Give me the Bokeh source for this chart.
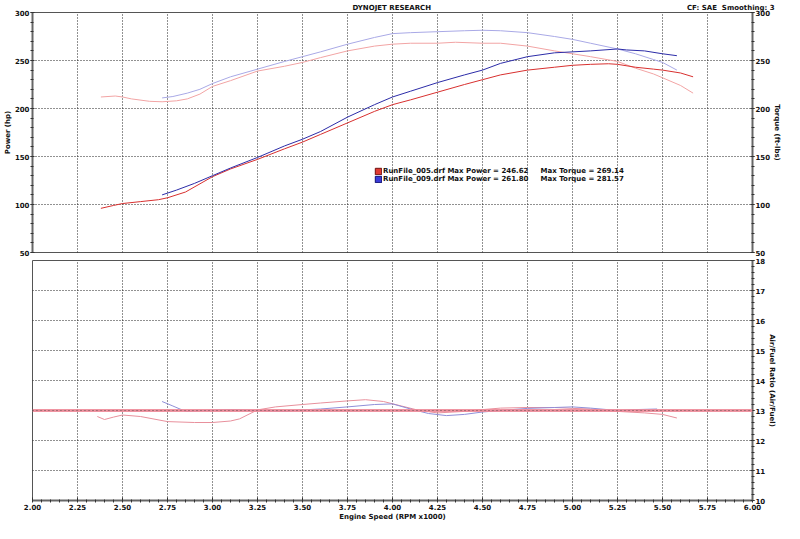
from bokeh.plotting import figure
from bokeh.layouts import column
from bokeh.models import (Range1d, LinearAxis, SingleIntervalTicker, NumeralTickFormatter,
                          Legend, LegendItem, Span)
from bokeh.embed import file_html
from bokeh.resources import INLINE

# ---------------- data ----------------
rpm_pwr_005 = [2.38, 2.45, 2.50, 2.60, 2.70, 2.75, 2.85, 3.00, 3.10, 3.25, 3.40, 3.50, 3.60, 3.75,
               3.90, 4.00, 4.10, 4.25, 4.40, 4.50, 4.60, 4.75, 4.90, 5.00, 5.10, 5.20, 5.25, 5.35,
               5.45, 5.50, 5.60, 5.67]
hp_005 = [96, 99, 101, 103, 105, 107, 113, 129, 137, 147, 158, 165, 173, 185,
          197, 204, 209, 217, 225, 230, 235, 240, 243, 245, 246, 246.6, 246, 243,
          241, 240, 237, 233]

rpm_pwr_009 = [2.72, 2.80, 2.90, 3.00, 3.10, 3.25, 3.40, 3.50, 3.60, 3.75, 3.90, 4.00, 4.10, 4.25,
               4.40, 4.50, 4.60, 4.75, 4.90, 5.00, 5.10, 5.25, 5.30, 5.40, 5.50, 5.58]
hp_009 = [110, 115, 122, 130, 138, 149, 161, 168, 176, 191, 204, 212, 218, 227,
          235, 240, 247, 254, 258, 259, 260, 262, 261, 260, 257, 255]

rpm_tq_005 = [2.38, 2.46, 2.50, 2.55, 2.65, 2.72, 2.80, 2.86, 2.93, 3.00, 3.10, 3.25, 3.40, 3.50,
              3.60, 3.75, 3.90, 4.00, 4.10, 4.25, 4.35, 4.50, 4.60, 4.75, 4.90, 5.00, 5.10, 5.25,
              5.35, 5.45, 5.50, 5.60, 5.67]
tq_005 = [212, 213, 212, 210, 207.5, 207, 208, 210, 215, 223, 229, 239, 244, 248,
          253, 260, 265, 267, 268, 268, 269, 268, 268, 265, 260, 257, 254, 249,
          242, 236, 232, 224, 216]

rpm_tq_009 = [2.72, 2.78, 2.86, 2.93, 3.00, 3.10, 3.25, 3.40, 3.50, 3.60, 3.75, 3.90, 4.00, 4.10,
              4.25, 4.40, 4.50, 4.60, 4.75, 4.90, 5.00, 5.10, 5.25, 5.35, 5.45, 5.50, 5.58]
tq_009 = [211, 212.5, 216, 220, 226, 233, 241, 249, 254, 259, 267, 274, 278, 279,
          280, 281, 281.5, 281, 279, 275, 272, 268, 262, 257, 251, 248, 240]

rpm_afr_005 = [2.36, 2.40, 2.45, 2.50, 2.60, 2.75, 2.90, 3.00, 3.10, 3.15, 3.25, 3.35, 3.50, 3.60,
               3.75, 3.85, 3.95, 4.05, 4.15, 4.25, 4.40, 4.50, 4.60, 4.75, 4.90, 5.00, 5.10, 5.25,
               5.40, 5.50, 5.58]
afr_005 = [12.80, 12.70, 12.78, 12.85, 12.80, 12.63, 12.60, 12.60, 12.65, 12.72, 13.02, 13.12, 13.20, 13.25,
           13.32, 13.36, 13.30, 13.15, 13.00, 12.92, 12.97, 13.03, 13.08, 13.10, 13.10, 13.07, 13.05, 12.97,
           12.92, 12.87, 12.75]

rpm_afr_009 = [2.72, 2.78, 2.85, 2.95, 3.10, 3.25, 3.40, 3.50, 3.60, 3.75, 3.90, 4.00, 4.10, 4.20,
               4.30, 4.40, 4.50, 4.60, 4.75, 4.90, 5.00, 5.10, 5.25, 5.35, 5.47]
afr_009 = [13.30, 13.15, 12.97, 13.00, 13.03, 13.00, 12.97, 13.02, 13.05, 13.12, 13.20, 13.22, 13.05, 12.90,
           12.83, 12.87, 12.95, 13.00, 13.07, 13.10, 13.12, 13.08, 13.00, 13.03, 13.05]

afr_target = [13.0]

run_names = ["RunFile_005.drf", "RunFile_009.drf"]
max_power = [246.62, 261.80]
max_torque = [269.14, 281.57]

title_text = "DYNOJET RESEARCH"
info_text = "CF: SAE\u00a0\u00a0Smoothing: 3"

# ---------------- style ----------------
FONT = "DejaVu Sans"
FS = "7px"
C_HP_005 = "#d8302f"
C_HP_009 = "#2c2ca8"
C_TQ_005 = "#f2a4a4"
C_TQ_009 = "#a9a9e6"
C_AFR_005 = "#e8909c"
C_AFR_009 = "#8f8fd8"
C_TARGET = "#ee8a98"
W = 784
NAN = float("nan")


def style_axis(ax):
    ax.major_label_text_font = FONT
    ax.major_label_text_font_size = FS
    ax.major_label_text_font_style = "bold"
    ax.major_label_text_color = "#111111"
    ax.axis_label_text_font = FONT
    ax.axis_label_text_font_size = FS
    ax.axis_label_text_font_style = "bold"
    ax.axis_label_text_color = "#111111"
    ax.axis_label_standoff = 0
    ax.major_label_standoff = 1
    ax.major_tick_in = 2
    ax.major_tick_out = 2
    ax.minor_tick_in = 1
    ax.minor_tick_out = 2
    ax.axis_line_color = "#666666"
    ax.axis_line_width = 2
    ax.major_tick_line_color = "#333333"
    ax.minor_tick_line_color = "#333333"


def style_grid(g):
    g.grid_line_color = "#222222"
    g.grid_line_dash = "1 2"
    g.grid_line_width = 1


xr = Range1d(2.0, 6.0)

# ---------------- top panel ----------------
top = figure(width=W, height=256, x_range=xr, y_range=Range1d(50, 300),
             output_backend="svg", toolbar_location=None,
             x_axis_location=None, y_axis_location="left",
             min_border_left=26, min_border_right=26, min_border_top=0, min_border_bottom=4)
top.extra_y_ranges = {"tq": Range1d(50, 300)}
top.title.text = title_text + "\u00a0" * 105 + info_text
top.title.align = "left"
top.title.offset = 320
top.title.text_font = FONT
top.title.text_font_size = FS
top.title.text_font_style = "bold"
top.title.text_color = "#111111"
top.title.standoff = 2
top.outline_line_color = "#555555"
top.background_fill_color = "white"
top.border_fill_color = "white"

ly = top.yaxis[0]
ly.ticker = SingleIntervalTicker(interval=50, num_minor_ticks=5)
ly.axis_label = "Power (hp)"
style_axis(ly)
ry = LinearAxis(y_range_name="tq", axis_label="Torque (ft-lbs)",
                ticker=SingleIntervalTicker(interval=50, num_minor_ticks=5))
style_axis(ry)
top.add_layout(ry, "right")

top.xgrid.ticker = SingleIntervalTicker(interval=0.25)
top.ygrid.ticker = SingleIntervalTicker(interval=50)
style_grid(top.xgrid[0])
style_grid(top.ygrid[0])

top.line(rpm_tq_005, tq_005, line_color=C_TQ_005, line_width=1, y_range_name="tq")
top.line(rpm_tq_009, tq_009, line_color=C_TQ_009, line_width=1, y_range_name="tq")
top.line(rpm_pwr_005, hp_005, line_color=C_HP_005, line_width=1)
top.line(rpm_pwr_009, hp_009, line_color=C_HP_009, line_width=1)

# legend swatches (no visible marks of their own)
q1 = top.quad(left=[NAN], right=[NAN], top=[NAN], bottom=[NAN], fill_color="#e03a32", line_color="#701010")
q2 = top.quad(left=[NAN], right=[NAN], top=[NAN], bottom=[NAN], fill_color="#3a3ad8", line_color="#101070")
gap = "\u00a0" * 5
items = []
for name, mp, mt, r in zip(run_names, max_power, max_torque, [q1, q2]):
    items.append(LegendItem(label=f"{name} Max Power = {mp:.2f}{gap}Max Torque = {mt:.2f}",
                            renderers=[r]))
leg = Legend(items=items, location=(342, 69), background_fill_alpha=0, border_line_alpha=0,
             label_text_font=FONT, label_text_font_size=FS, label_text_font_style="bold",
             label_text_color="#111111",
             glyph_width=8, glyph_height=8, label_height=8, label_standoff=1,
             spacing=0, padding=0, margin=0)
top.add_layout(leg)

# ---------------- bottom panel ----------------
bot = figure(width=W, height=267, x_range=xr, y_range=Range1d(10, 18),
             output_backend="svg", toolbar_location=None,
             x_axis_location="below", y_axis_location="right",
             min_border_left=26, min_border_right=26, min_border_top=4, min_border_bottom=5)
bot.outline_line_color = "#555555"
bot.background_fill_color = "white"
bot.border_fill_color = "white"

bx = bot.xaxis[0]
bx.ticker = SingleIntervalTicker(interval=0.25, num_minor_ticks=5)
bx.formatter = NumeralTickFormatter(format="0.00")
bx.axis_label = "Engine Speed (RPM x1000)"
style_axis(bx)
bx.major_tick_in = 3
bx.major_tick_out = 1

by = bot.yaxis[0]
by.ticker = SingleIntervalTicker(interval=1, num_minor_ticks=5)
by.axis_label = "Air/Fuel Ratio (Air/Fuel)"
style_axis(by)

style_grid(bot.xgrid[0])
style_grid(bot.ygrid[0])

for t in afr_target:
    bot.add_layout(Span(location=t, dimension="width", line_color=C_TARGET, line_width=3, line_alpha=0.9))

bot.line(rpm_afr_005, afr_005, line_color=C_AFR_005, line_width=1)
bot.line(rpm_afr_009, afr_009, line_color=C_AFR_009, line_width=1)

for t in afr_target:
    bot.add_layout(Span(location=t, dimension="width", line_color="#333333", line_width=1,
                        line_dash="1 3", line_alpha=0.7))

layout = column(top, bot, spacing=0)
open("out.html", "w").write(file_html(layout, INLINE))
